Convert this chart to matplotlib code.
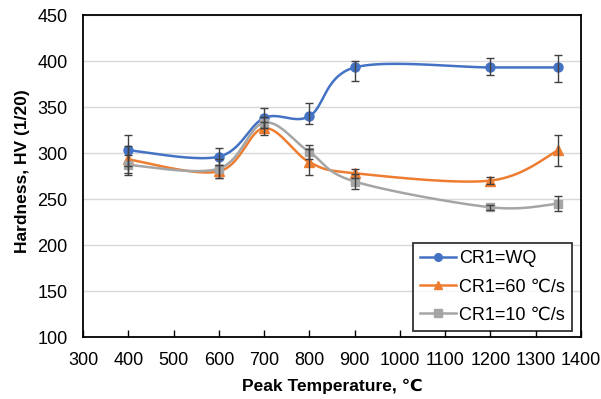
import numpy as np
import matplotlib
matplotlib.use("Agg")
import matplotlib.pyplot as plt

plt.rcParams['font.family'] = ['Liberation Sans', 'DejaVu Sans']

# Peak temperature (°C) and hardness readings
peak_temp = [400, 600, 700, 800, 900, 1200, 1350]

hv_wq = [303, 296, 338, 340, 393, 393, 393]
err_wq_lo = [17, 9, 11, 9, 15, 8, 16]
err_wq_hi = [17, 9, 11, 14, 7, 10, 14]

hv_60 = [293, 280, 327, 290, 278, 270, 303]
err_60_lo = [15, 7, 7, 14, 5, 4, 17]
err_60_hi = [15, 7, 7, 14, 5, 4, 17]

hv_10 = [287, 283, 333, 301, 269, 241, 245]
err_10_lo = [11, 10, 6, 8, 8, 3, 8]
err_10_hi = [11, 10, 6, 8, 8, 3, 8]

labels = ["CR1=WQ", "CR1=60 \u2103/s", "CR1=10 \u2103/s"]
colors = ["#4472C4", "#ED7D31", "#A5A5A5"]
markers = ["o", "^", "s"]

x_ticks = list(range(300, 1401, 100))
y_ticks = list(range(100, 451, 50))


def smooth_curve(xs, ys, n=40):
    """Catmull-Rom style Bezier smoothing through every point."""
    p = np.column_stack([xs, ys]).astype(float)
    ext = np.vstack([p[0], p, p[-1]])
    out = []
    t = np.linspace(0, 1, n)[:, None]
    for i in range(len(p) - 1):
        p0, p1, p2, p3 = ext[i], ext[i + 1], ext[i + 2], ext[i + 3]
        c1 = p1 + (p2 - p0) / 6.0
        c2 = p2 - (p3 - p1) / 6.0
        seg = ((1 - t) ** 3) * p1 + 3 * ((1 - t) ** 2) * t * c1 \
            + 3 * (1 - t) * t ** 2 * c2 + t ** 3 * p2
        out.append(seg if i == 0 else seg[1:])
    seg = np.vstack(out)
    return seg[:, 0], seg[:, 1]


fig = plt.figure(figsize=(6.01, 3.99), dpi=100)
ax = fig.add_axes([83 / 601, 1 - 337 / 399, 498 / 601, 322 / 399])

series = [
    (hv_wq, err_wq_lo, err_wq_hi),
    (hv_60, err_60_lo, err_60_hi),
    (hv_10, err_10_lo, err_10_hi),
]

msize = {"o": 6.5, "^": 6.5, "s": 6.0}

for (vals, lo, hi), lab, col, mk in zip(series, labels, colors, markers):
    sx, sy = smooth_curve(peak_temp, vals)
    ax.plot(sx, sy, color=col, lw=1.8, zorder=3)
    ax.plot(peak_temp, vals, linestyle="none", marker=mk, color=col,
            markersize=msize[mk], zorder=4)
    ax.errorbar(peak_temp, vals, yerr=[lo, hi], fmt="none", ecolor="#404040",
                elinewidth=1.0, capsize=3, capthick=1.0, zorder=5)
    # legend proxy
    ax.plot([], [], color=col, lw=1.8, marker=mk, markersize=5.5, label=lab)

ax.set_xlim(300, 1400)
ax.set_ylim(100, 450)
ax.set_xticks(x_ticks)
ax.set_yticks(y_ticks)
ax.grid(axis="y", color="#D9D9D9", lw=1.0, zorder=0)
ax.set_axisbelow(True)

for s in ax.spines.values():
    s.set_color("black")
    s.set_linewidth(1.3)

ax.tick_params(axis="x", direction="in", length=5, width=1, pad=10.5,
               labelsize=13, colors="black", top=False)
ax.tick_params(axis="y", length=0, pad=11, labelsize=13)

ax.set_xlabel("Peak Temperature, \u2103", fontsize=12.5, fontweight="bold", labelpad=7)
ax.set_ylabel("Hardness, HV (1/20)", fontsize=12.5, fontweight="bold")
ax.yaxis.set_label_coords(-0.107, 0.515)

handles, labs = ax.get_legend_handles_labels()
leg = ax.legend(handles[-3:], labs[-3:], loc="lower right",
                bbox_to_anchor=(0.982, 0.019), borderaxespad=0,
                fontsize=13, frameon=True, fancybox=False,
                handlelength=2.0, handletextpad=0.15, labelspacing=0.62,
                borderpad=0.4)
leg.get_frame().set_edgecolor("black")
leg.get_frame().set_linewidth(1.3)
leg.set_zorder(10)

fig.savefig("out.png", dpi=100)
